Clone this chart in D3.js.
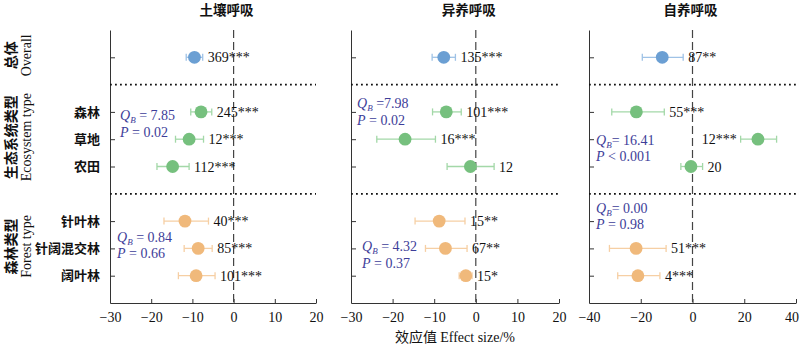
<!DOCTYPE html>
<html>

<head>
  <title>Effect size forest plot</title>
  <meta charset="utf-8">
  <script src="https://d3js.org/d3.v7.min.js"></script>
  <style>
    body { margin: 0; background: #fff; }
    svg { display: block; }
    .serif { font-family: "Liberation Serif", "Times New Roman", "Noto Sans CJK SC", serif; }
    .cjk { font-family: "Noto Sans CJK SC", sans-serif; }
    .axis path, .axis line { stroke: #333; stroke-width: 1; }
    .axis text { font-family: "Liberation Serif", serif; font-size: 14px; fill: #111; }
    .qb { fill: #3d3d99; font-size: 14px; }
  </style>
</head>

<body>
  <svg width="800" height="345"></svg>
  <script>

    // rows: overall, ecosystem type (3), forest type (3)
    const categories = ["Overall", "森林", "草地", "农田", "针叶林", "针阔混交林", "阔叶林"];
    const rowIndex = [1, 3, 4, 5, 7, 8, 9];
    const rowGroup = ["overall", "eco", "eco", "eco", "forest", "forest", "forest"];
    const dividers = [2, 6];

    const panelTitles = ["土壤呼吸", "异养呼吸", "自养呼吸"];
    const xDomains = [[-30, 20], [-30, 20], [-40, 40]];
    const xTicks = [[-30, -20, -10, 0, 10, 20], [-30, -20, -10, 0, 10, 20], [-40, -20, 0, 20, 40]];

    // 土壤呼吸
    const soilMean = [-9.5, -7.9, -10.8, -14.8, -11.8, -8.6, -9.1];
    const soilLow = [-11.5, -10.4, -14.1, -18.6, -16.9, -12.0, -13.4];
    const soilHigh = [-7.5, -5.3, -7.3, -10.8, -6.1, -5.2, -4.5];
    const soilLabels = ["369***", "245***", "12***", "112***", "40***", "85***", "101***"];

    // 异养呼吸
    const hetMean = [-7.7, -7.1, -17.0, -1.3, -8.8, -7.3, -2.4];
    const hetLow = [-10.5, -10.4, -23.8, -6.9, -14.6, -12.1, -4.0];
    const hetHigh = [-4.9, -3.5, -9.7, 4.4, -2.6, -2.1, -0.9];
    const hetLabels = ["135***", "101***", "16***", "12", "15**", "67**", "15*"];

    // 自养呼吸 (no 针叶林 record)
    const autoMean = [-11.7, -21.7, 25.3, -0.6, null, -21.8, -21.1];
    const autoLow = [-19.4, -31.2, 18.6, -4.5, null, -32.1, -28.9];
    const autoHigh = [-3.6, -10.9, 32.5, 3.9, null, -10.2, -12.6];
    const autoLabels = ["87**", "55***", "12***", "20", null, "51***", "4***"];

    // between-group heterogeneity: [eco, forest] per panel
    const qbStats = [[" = 7.85", " = 0.84"], [" =7.98", " = 4.32"], ["= 16.41", "= 0.00"]];
    const pStats = [[" = 0.02", " = 0.66"], [" = 0.02", " = 0.37"], [" < 0.001", " = 0.98"]];

    const groupColor = { overall: "#6b9fd3", eco: "#76c07e", forest: "#f0b97b" };
    const barColor = { overall: "#9fc2e6", eco: "#a3d8a8", forest: "#f6cfa4" };

    const series = [
      { mean: soilMean, low: soilLow, high: soilHigh, labels: soilLabels },
      { mean: hetMean, low: hetLow, high: hetHigh, labels: hetLabels },
      { mean: autoMean, low: autoLow, high: autoHigh, labels: autoLabels }
    ];

    // layout
    const panelRanges = [[110, 316], [351, 559], [589, 796]];
    const titleShift = [-7, -7, -2];
    const qbAnchor = [ // [dx from axis, y row] for eco / forest text
      [[10, 3.3], [7, 7.75]],
      [[6, 2.86], [11, 8.1]],
      [[7, 4.21], [7, 6.7]]
    ];

    const svg = d3.select("svg");
    const y = d3.scaleLinear().domain([0, 10]).range([30, 303]);

    panelTitles.forEach(function (title, p) {
      const x = d3.scaleLinear().domain(xDomains[p]).range(panelRanges[p]);
      const s = series[p];
      const g = svg.append("g");

      // axes
      const xAxis = g.append("g")
        .attr("class", "axis")
        .attr("transform", "translate(0," + y(10) + ")")
        .call(d3.axisBottom(x).tickValues(xTicks[p]).tickSizeInner(-4).tickSizeOuter(0).tickPadding(9)
          .tickFormat(d => d < 0 ? "\u2212" + Math.abs(d) : d));

      // keep the outermost tick label inside the page
      xAxis.selectAll(".tick text").each(function () {
        const box = this.getBBox();
        const m = this.parentNode.transform.baseVal.consolidate().matrix.e;
        const over = m + box.x + box.width - 799;
        if (over > 0) d3.select(this).attr("dx", -over);
      });

      g.append("g")
        .attr("class", "axis")
        .attr("transform", "translate(" + x.range()[0] + ",0)")
        .call(d3.axisLeft(y).tickValues(rowIndex).tickSizeInner(-5).tickSizeOuter(0).tickFormat(""));

      // zero line
      g.append("line")
        .attr("x1", x(0)).attr("x2", x(0))
        .attr("y1", y(0)).attr("y2", y(10))
        .attr("stroke", "#444").attr("stroke-width", 1.2)
        .attr("stroke-dasharray", "8,4");

      // group dividers
      g.selectAll("line.div")
        .data(dividers)
        .enter().append("line")
        .attr("class", "div")
        .attr("x1", x.range()[0]).attr("x2", x.range()[1])
        .attr("y1", d => y(d)).attr("y2", d => y(d))
        .attr("stroke", "#111").attr("stroke-width", 1.8)
        .attr("stroke-dasharray", "1.8,3.2");

      // title
      g.append("text")
        .attr("class", "cjk")
        .attr("x", x(0) + titleShift[p])
        .attr("y", 15)
        .attr("text-anchor", "middle")
        .attr("font-size", 13.5)
        .attr("font-weight", 700)
        .attr("fill", "#111")
        .text(title);

      const rows = d3.range(categories.length).filter(i => s.mean[i] !== null);

      const rowG = g.selectAll("g.row")
        .data(rows)
        .enter().append("g")
        .attr("class", "row")
        .attr("transform", i => "translate(0," + y(rowIndex[i]) + ")");

      rowG.append("line")
        .attr("x1", i => x(s.low[i])).attr("x2", i => x(s.high[i]))
        .attr("stroke", i => barColor[rowGroup[i]]).attr("stroke-width", 1.3);
      rowG.append("line")
        .attr("x1", i => x(s.low[i])).attr("x2", i => x(s.low[i]))
        .attr("y1", -3.5).attr("y2", 3.5)
        .attr("stroke", i => barColor[rowGroup[i]]).attr("stroke-width", 1.3);
      rowG.append("line")
        .attr("x1", i => x(s.high[i])).attr("x2", i => x(s.high[i]))
        .attr("y1", -3.5).attr("y2", 3.5)
        .attr("stroke", i => barColor[rowGroup[i]]).attr("stroke-width", 1.3);
      rowG.append("circle")
        .attr("cx", i => x(s.mean[i]))
        .attr("r", 6.4)
        .attr("fill", i => groupColor[rowGroup[i]]);

      // sample size labels; flip to the left if they would run past the panel
      rowG.append("text")
        .attr("class", "serif")
        .attr("font-size", 14)
        .attr("fill", "#111")
        .attr("dy", "0.36em")
        .text(i => s.labels[i])
        .each(function (i) {
          const w = this.getComputedTextLength();
          const right = x(s.high[i]) + 5;
          if (right + w > x.range()[1]) {
            d3.select(this).attr("x", x(s.low[i]) - 4).attr("text-anchor", "end");
          } else {
            d3.select(this).attr("x", right);
          }
        });

      // QB / P annotations
      ["eco", "forest"].forEach(function (grp, k) {
        const ax = x.range()[0] + qbAnchor[p][k][0];
        const ay = y(qbAnchor[p][k][1]);
        const t1 = g.append("text").attr("class", "serif qb").attr("x", ax).attr("y", ay);
        t1.append("tspan").attr("font-style", "italic").text("Q");
        t1.append("tspan").attr("font-style", "italic").attr("font-size", 9).attr("dy", 3).text("B");
        t1.append("tspan").attr("dy", -3).text(qbStats[p][k]);
        const t2 = g.append("text").attr("class", "serif qb").attr("x", ax).attr("y", ay + 16.5);
        t2.append("tspan").attr("font-style", "italic").text("P");
        t2.append("tspan").text(pStats[p][k]);
      });
    });

    // category names on the left
    svg.selectAll("text.cat")
      .data(d3.range(1, categories.length))
      .enter().append("text")
      .attr("class", "cjk cat")
      .attr("x", 100)
      .attr("y", i => y(rowIndex[i]))
      .attr("dy", "0.36em")
      .attr("text-anchor", "end")
      .attr("font-size", 13)
      .attr("font-weight", 600)
      .attr("fill", "#111")
      .text(i => categories[i]);

    // rotated group titles
    const groupTitles = [
      { zh: "总体", en: "Overall", row: 1 },
      { zh: "生态系统类型", en: "Ecosystem type", row: 4 },
      { zh: "森林类型", en: "Forest type", row: 8 }
    ];
    groupTitles.forEach(function (d) {
      const cy = y(d.row) - 2;
      svg.append("text")
        .attr("class", "cjk")
        .attr("transform", "translate(16," + cy + ") rotate(-90)")
        .attr("text-anchor", "middle")
        .attr("font-size", 14)
        .attr("font-weight", 600)
        .attr("fill", "#111")
        .text(d.zh);
      svg.append("text")
        .attr("class", "serif")
        .attr("transform", "translate(31," + cy + ") rotate(-90)")
        .attr("text-anchor", "middle")
        .attr("font-size", 14)
        .attr("fill", "#111")
        .text(d.en);
    });

    // shared x axis title
    const xt = svg.append("text")
      .attr("x", 455)
      .attr("y", 342)
      .attr("text-anchor", "middle")
      .attr("font-size", 14)
      .attr("fill", "#111");
    xt.append("tspan").attr("class", "cjk").text("效应值 ");
    xt.append("tspan").attr("class", "serif").text("Effect size/%");

  </script>

</body>

</html>
